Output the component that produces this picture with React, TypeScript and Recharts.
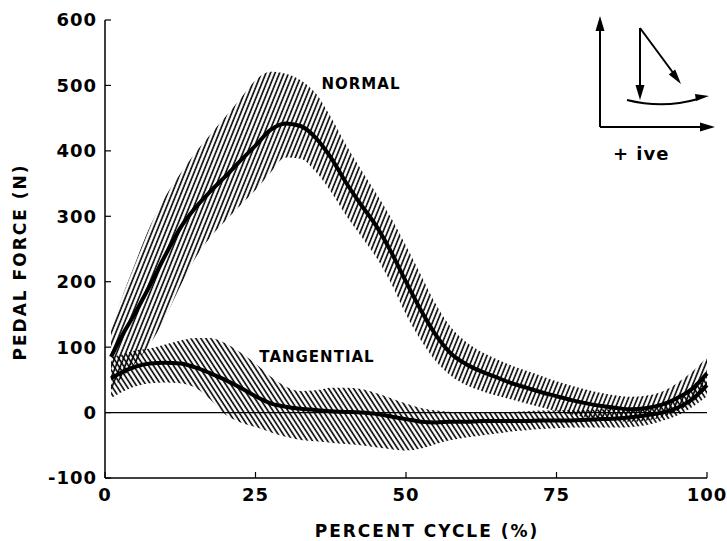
import { ComposedChart, Area, Line, XAxis, YAxis, ReferenceLine } from 'recharts';

const FONT = '"DejaVu Sans", "Liberation Sans", Arial, sans-serif';

// percent of the pedal cycle
const cycle = [
  1, 2.5, 5, 7.5, 10, 12.5, 15, 17.5, 20, 22.5, 25, 27.5, 30, 32.5, 35, 37.5, 40, 42.5, 45, 47.5, 50,
  52.5, 55, 57.5, 60, 62.5, 65, 67.5, 70, 72.5, 75, 77.5, 80, 82.5, 85, 87.5, 90, 92.5, 95, 97.5, 100,
];

// normal pedal force (N): mean and band limits
const normalMean = [
  85, 112, 152, 195, 240, 282, 313, 338, 361, 385, 408, 432, 442, 438, 420, 390, 352, 318, 286, 246, 200,
  156, 118, 90, 74, 63, 54, 45, 38, 31, 25, 19, 14, 10, 7, 5, 7, 12, 22, 36, 60,
];
const normalUpper = [
  125, 168, 228, 285, 330, 365, 397, 425, 452, 480, 508, 521, 518, 508, 488, 452, 410, 372, 336, 298, 255,
  210, 165, 130, 108, 93, 82, 72, 64, 56, 48, 41, 35, 30, 26, 24, 26, 32, 45, 62, 85,
];
const normalLower = [
  35, 50, 75, 105, 145, 193, 236, 268, 293, 317, 340, 367, 390, 388, 368, 338, 302, 270, 238, 198, 150,
  110, 78, 56, 42, 33, 26, 20, 14, 8, 2, -3, -7, -10, -13, -14, -12, -7, 2, 15, 38,
];

// tangential pedal force (N): mean and band limits
const tangentialMean = [
  52, 60, 70, 75, 76, 75, 69, 60, 50, 38, 25, 14, 9, 6, 4, 2, 1, 0, -2, -6, -10,
  -14, -15, -14, -14, -13, -13, -13, -13, -12, -12, -12, -11, -10, -9, -7, -4, 0, 7, 20, 42,
];
const tangentialUpper = [
  85, 88, 95, 98, 104, 110, 114, 114, 106, 92, 75, 55, 40, 33, 34, 38, 38, 36, 30, 22, 14,
  7, 3, 1, 0, 0, 0, 1, 2, 3, 3, 4, 4, 5, 5, 6, 8, 12, 22, 40, 62,
];
const tangentialLower = [
  22, 30, 40, 45, 46, 45, 38, 20, -3, -15, -22, -30, -37, -42, -44, -46, -48, -50, -53, -56, -58,
  -55, -48, -42, -38, -35, -32, -29, -27, -25, -24, -23, -23, -23, -23, -22, -19, -13, -5, 8, 25,
];

const xTicks = [0, 25, 50, 75, 100];
const yTicks = [-100, 0, 100, 200, 300, 400, 500, 600];

const data = cycle.map((x, i) => ({
  x,
  normal: normalMean[i],
  normalBand: [normalLower[i], normalUpper[i]],
  tangential: tangentialMean[i],
  tangentialBand: [tangentialLower[i], tangentialUpper[i]],
}));

const tickStyle = { fontSize: 18, fontWeight: 700, fill: '#000', fontFamily: FONT, letterSpacing: 1 };

export default function App() {
  return (
    <div style={{ position: 'absolute', left: 0, top: 0, width: 727, height: 541, background: '#fff' }}>
      <ComposedChart width={727} height={541} data={data} margin={{ top: 20, right: 20, bottom: 0, left: 0 }}>
        <defs>
          <pattern id="hatchNormal" patternUnits="userSpaceOnUse" width="4.2" height="12" patternTransform="rotate(22)">
            <line x1="1" y1="0" x2="1" y2="12" stroke="#000" strokeWidth="1.6" />
          </pattern>
          <pattern id="hatchTang" patternUnits="userSpaceOnUse" width="4.2" height="12" patternTransform="rotate(-33)">
            <line x1="1" y1="0" x2="1" y2="12" stroke="#000" strokeWidth="1.6" />
          </pattern>
        </defs>
        <XAxis
          dataKey="x"
          type="number"
          domain={[0, 100]}
          ticks={xTicks}
          height={63}
          tickSize={-6}
          tickMargin={16}
          axisLine={{ stroke: '#000', strokeWidth: 1.5 }}
          tickLine={{ stroke: '#000', strokeWidth: 1.2 }}
          tick={tickStyle}
        />
        <YAxis
          type="number"
          domain={[-100, 600]}
          ticks={yTicks}
          width={105}
          tickSize={-6}
          tickMargin={14}
          axisLine={{ stroke: '#000', strokeWidth: 1.5 }}
          tickLine={{ stroke: '#000', strokeWidth: 1.2 }}
          tick={tickStyle}
        />
        <Area
          dataKey="tangentialBand"
          type="monotone"
          stroke="none"
          fill="url(#hatchTang)"
          fillOpacity={1}
          isAnimationActive={false}
        />
        <Area
          dataKey="normalBand"
          type="monotone"
          stroke="none"
          fill="url(#hatchNormal)"
          fillOpacity={1}
          isAnimationActive={false}
        />
        <ReferenceLine y={0} stroke="#000" strokeWidth={1.2} />
        <Line
          dataKey="normal"
          type="monotone"
          stroke="#000"
          strokeWidth={4}
          dot={false}
          activeDot={false}
          isAnimationActive={false}
        />
        <Line
          dataKey="tangential"
          type="monotone"
          stroke="#000"
          strokeWidth={4}
          dot={false}
          activeDot={false}
          isAnimationActive={false}
        />
      </ComposedChart>
      <svg
        width={727}
        height={541}
        style={{ position: 'absolute', left: 0, top: 0, pointerEvents: 'none' }}
        fontFamily={FONT}
        fontWeight={700}
      >
        <text x={361} y={89} textAnchor="middle" fontSize={15} letterSpacing={1}>NORMAL</text>
        <text x={317} y={362} textAnchor="middle" fontSize={15} letterSpacing={1}>TANGENTIAL</text>
        <text x={427} y={537} textAnchor="middle" fontSize={17} letterSpacing={2}>PERCENT CYCLE (%)</text>
        <text
          transform="translate(26 262) rotate(-90)"
          textAnchor="middle"
          fontSize={17}
          letterSpacing={2}
        >
          PEDAL FORCE (N)
        </text>
        {/* sign convention inset */}
        <g stroke="#000" strokeWidth={2} fill="none">
          <line x1={600} y1={127} x2={600} y2={26} />
          <line x1={600} y1={127} x2={704} y2={127} />
          <line x1={640} y1={28} x2={640} y2={88} />
          <line x1={640} y1={28} x2={674} y2={74} />
          <path d="M 627 100 Q 663 109 698 99" />
        </g>
        <g fill="#000">
          <polygon points="600,16 595.5,31 604.5,31" />
          <polygon points="715,127 700,122.5 700,131.5" />
          <polygon points="640,100 635.5,85 644.5,85" />
          <polygon points="681,84 675.2,69.6 668.8,74.4" />
          <polygon points="709,96 695,94 696,101" />
        </g>
        <text x={613} y={160} fontSize={18} letterSpacing={1}>+ ive</text>
      </svg>
    </div>
  );
}
